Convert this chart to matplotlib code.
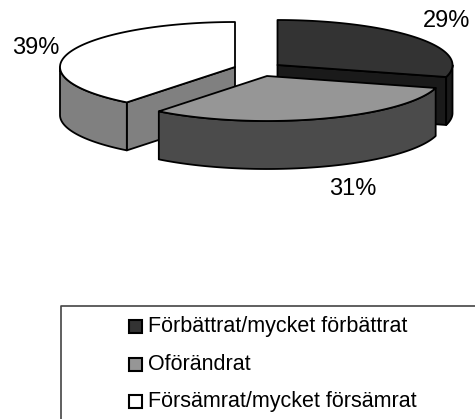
import numpy as np
import matplotlib
matplotlib.use("Agg")
import matplotlib.pyplot as plt
from matplotlib.patches import Polygon, Rectangle

plt.rcParams['font.family'] = ['Liberation Sans', 'DejaVu Sans']

# Data
categories = ["Förbättrat/mycket förbättrat", "Oförändrat", "Försämrat/mycket försämrat"]
values = [29, 31, 39]
pct_labels = ["29%", "31%", "39%"]

# Style
top_colors = ["#333333", "#969696", "#ffffff"]
side_colors = ["#1a1a1a", "#4b4b4b", "#808080"]
apexes = [(277.5, 65), (267, 76), (235, 67)]
label_pos = [(447, 21), (353, 189), (36, 48)]
RX, RY, H = 175, 45, 48
LW = 1.3

fig = plt.figure(figsize=(4.75, 4.19), dpi=100)
ax = fig.add_axes([0, 0, 1, 1])
ax.set_xlim(0, 475)
ax.set_ylim(419, 0)
ax.axis("off")

fractions = np.array(values, float) / sum(values)
edges = np.concatenate([[0], np.cumsum(fractions)]) * 2 * np.pi


def rim(i, a, b, n=120):
    t = np.linspace(a, b, n)
    cx, cy = apexes[i]
    return np.column_stack([cx + RX * np.sin(t), cy - RY * np.cos(t)])


def poly(pts, fc, z):
    ax.add_patch(Polygon(pts, closed=True, fc=fc, ec="black", lw=LW, joinstyle="round", zorder=z))


def draw_slice(i, z):
    a, b = edges[i], edges[i + 1]
    apex = np.array(apexes[i], float)
    down = np.array([0, H])
    # radial walls facing the viewer
    if i == 0:
        e = rim(i, b, b, 1)[0]
        poly([apex, e, e + down, apex + down], side_colors[i], z)
    if i == 2:
        e = rim(i, a, a, 1)[0]
        poly([apex, e, e + down, apex + down], side_colors[i], z)
    # outer wall, front half only
    lo, hi = max(a, np.pi / 2), min(b, 3 * np.pi / 2)
    if hi > lo:
        r = rim(i, lo, hi)
        poly(np.vstack([r, (r + down)[::-1]]), side_colors[i], z + 0.1)
    # top face
    poly(np.vstack([[apex], rim(i, a, b)]), top_colors[i], z + 0.2)


for z, i in enumerate([0, 2, 1]):
    draw_slice(i, z + 1)

for (x, y), s in zip(label_pos, pct_labels):
    ax.text(x, y, s, fontsize=17, ha="center", va="center", color="black", zorder=10)

# Legend
ax.plot([61, 61, 475], [425, 306, 306], color="#444444", lw=1.2, zorder=5, clip_on=True)
rows = [326, 364, 401]
for y, c, name in zip(rows, top_colors, categories):
    ax.add_patch(Rectangle((129, y - 6.5), 13, 13, fc=c, ec="black", lw=1.5, zorder=6))
    ax.text(148, y, name, fontsize=15.5, ha="left", va="center", color="black", zorder=6)

fig.savefig("out.png", dpi=100)
